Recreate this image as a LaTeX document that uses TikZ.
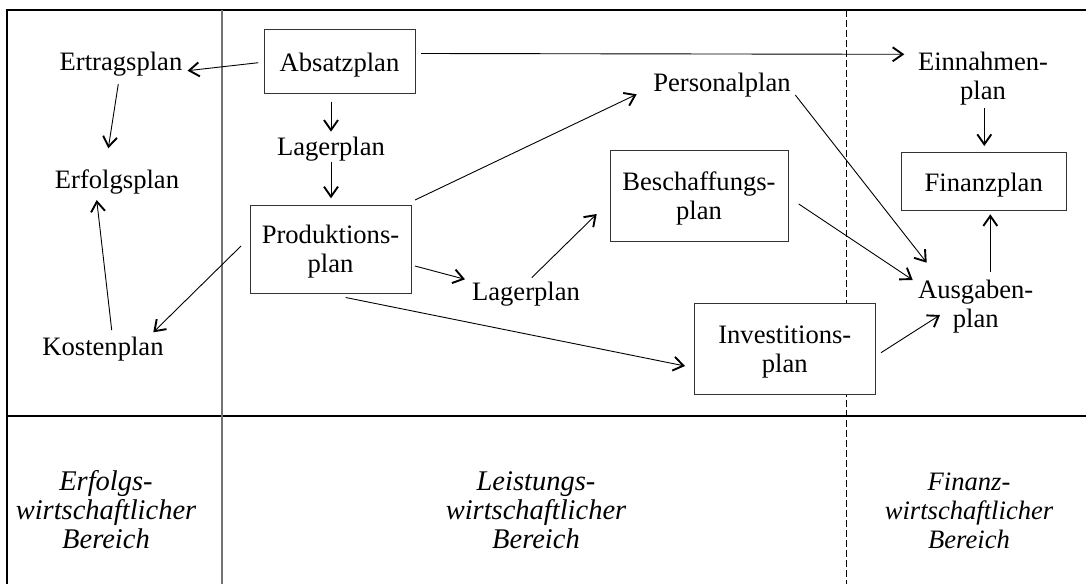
\documentclass[tikz,border=0pt]{standalone}
\usepackage{fontspec}
\setmainfont{Liberation Serif}
\usetikzlibrary{arrows.meta}
\begin{document}
\begin{tikzpicture}[x=1pt,y=-1pt,
  every node/.style={font=\fontsize{26.6}{29}\selectfont, inner sep=0pt},
  lbl/.style={anchor=base, align=center},
  planbox/.style={draw=black!80, fill=white, line width=1pt, align=center, text depth=0pt},
  onebox/.style={planbox, text height=20pt},
  area/.style={anchor=base, align=center, font=\fontsize{26.6}{29}\selectfont\itshape},
  widearea/.style={area, font=\fontsize{28.5}{29}\selectfont\itshape},
  flow/.style={line width=0.9pt, -{Straight Barb[length=10pt,width=14pt,line width=1.9pt]}},
  frame/.style={line width=1.2pt},
]
\useasboundingbox (0,0) rectangle (1086,584);

% frame and area dividers
\draw[frame] (7,584) -- (7,10) -- (1086,10);
\draw[frame] (7,416) -- (1086,416);
\draw[line width=1.8pt, black!55] (221.7,10) -- (221.7,584);
\draw[line width=0.9pt, dash pattern=on 7pt off 3pt] (846.3,10) -- (846.3,584);

% boxed plans
\node[onebox, minimum width=151pt, minimum height=64pt] (abs) at (339.5,61) {Absatzplan};
\node[planbox, minimum width=161pt, minimum height=88pt] (prod) at (330.5,249) {Produktions-\\plan};
\node[planbox, minimum width=178pt, minimum height=91pt] (besch) at (699,196) {Beschaffungs-\\plan};
\node[onebox, minimum width=164.7pt, minimum height=57.7pt] (fin) at (983.7,181.2) {Finanzplan};
\node[planbox, minimum width=181pt, minimum height=91pt] (inv) at (784.8,348.8) {Investitions-\\plan};

% plain plans (base = last line)
\node[lbl] (ertrag) at (121,70) {Ertragsplan};
\node[lbl] (erfolg) at (117,188.3) {Erfolgsplan};
\node[lbl] (kosten) at (103,355) {Kostenplan};
\node[lbl] (lagerA) at (331,155) {Lagerplan};
\node[lbl] (lagerB) at (526,300.5) {Lagerplan};
\node[lbl] (personal) at (722,91.7) {Personalplan};
\node[lbl] (einnahmen) at (983,99.7) {Einnahmen-\\plan};
\node[lbl] (ausgaben) at (975.7,327.3) {Ausgaben-\\plan};

% area captions
\node[widearea] (erfolgsber) at (106,548) {Erfolgs-\\wirtschaftlicher\\Bereich};
\node[widearea] (leistungsber) at (536,548) {Leistungs-\\wirtschaftlicher\\Bereich};
\node[area] (finanzber) at (969,548) {Finanz-\\wirtschaftlicher\\Bereich};

% planning flows
\draw[flow] ([shift={(-81.2,1.7)}]abs.center) -- ([shift={(66.5,0.7)}]ertrag.base);
\draw[flow] ([shift={(-8.5,40.7)}]abs.center) -- ([shift={(0,-23.3)}]lagerA.base);
\draw[flow] ([shift={(0,6.7)}]lagerA.base) -- ([shift={(0.5,-50.7)}]prod.center);
\draw[flow] ([shift={(81.5,-7.5)}]abs.center) -- ([shift={(-78.7,-45.4)}]einnahmen.base);
\draw[flow] ([shift={(-2.7,14)}]ertrag.base) -- ([shift={(-8.7,-40)}]erfolg.base);
\draw[flow] ([shift={(8.7,-25)}]kosten.base) -- ([shift={(-20.3,11.7)}]erfolg.base);
\draw[flow] ([shift={(-89.5,-3)}]prod.center) -- ([shift={(50.3,-22.7)}]kosten.base);
\draw[flow] ([shift={(84.5,-49)}]prod.center) -- ([shift={(-85.3,2.6)}]personal.base);
\draw[flow] ([shift={(84.5,17)}]prod.center) -- ([shift={(-61,-21.2)}]lagerB.base);
\draw[flow] ([shift={(5.7,-22.8)}]lagerB.base) -- ([shift={(-102.3,18)}]besch.center);
\draw[flow] ([shift={(15.2,48.5)}]prod.center) -- ([shift={(-99.8,17.2)}]inv.center);
\draw[flow] ([shift={(73.3,3.3)}]personal.base) -- ([shift={(-49,-64.6)}]ausgaben.base);
\draw[flow] ([shift={(99.7,8)}]besch.center) -- ([shift={(-63,-47.3)}]ausgaben.base);
\draw[flow] ([shift={(96.2,3.9)}]inv.center) -- ([shift={(-35.7,-12.3)}]ausgaben.base);
\draw[flow] ([shift={(1.3,8.6)}]einnahmen.base) -- ([shift={(0.6,-35.2)}]fin.center);
\draw[flow] ([shift={(14.6,-55.6)}]ausgaben.base) -- ([shift={(6.6,33.1)}]fin.center);
\end{tikzpicture}
\end{document}
